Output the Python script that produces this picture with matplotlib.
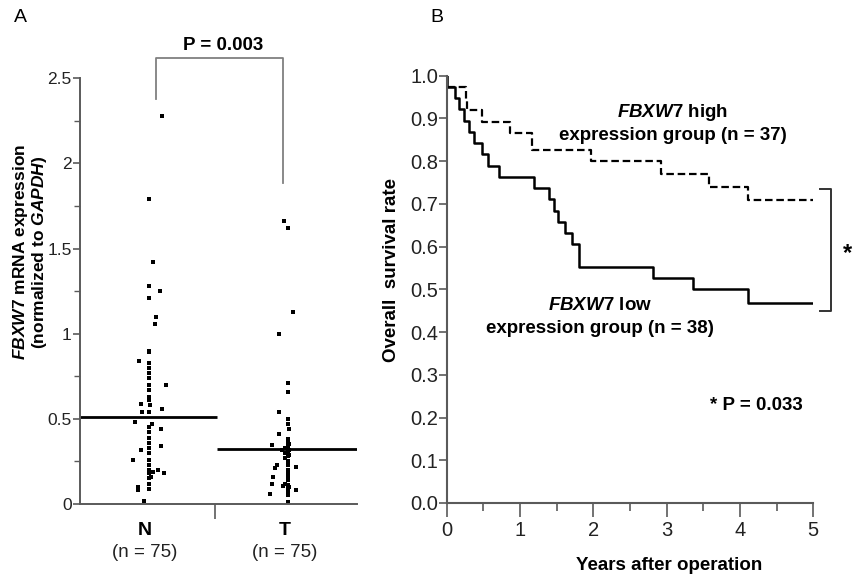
import matplotlib
matplotlib.use('Agg')
import matplotlib.pyplot as plt
from matplotlib.ticker import MultipleLocator, FormatStrFormatter, FuncFormatter

plt.rcParams['font.family'] = ['Liberation Sans', 'DejaVu Sans']
plt.rcParams['mathtext.fontset'] = 'custom'
plt.rcParams['mathtext.it'] = 'Liberation Sans:italic:bold'
plt.rcParams['mathtext.rm'] = 'Liberation Sans:bold'
plt.rcParams['mathtext.bf'] = 'Liberation Sans:bold'

# --- Panel A: FBXW7 mRNA expression, normal (N) vs tumour (T) ---
groups = ['N', 'T']
group_pos = [1, 2]
group_n = [75, 75]
medians = [0.51, 0.325]

n_x = [1.119, 1.031, 1.055, 1.031, 1.107, 1.031, 1.076, 1.071, 1.031, 1.031,
       0.959, 1.031, 1.031, 1.031, 1.031, 1.148, 1.031, 1.031, 1.031, 1.031,
       0.971, 1.035, 1.124, 0.981, 1.031, 0.929, 1.048, 1.031, 1.114, 1.031,
       1.031, 1.031, 1.112, 0.969, 1.031, 1.031, 0.917, 1.031, 1.031, 1.031,
       1.095, 1.040, 1.055, 1.136, 1.031, 1.031, 1.040, 1.031, 1.031, 0.948,
       0.950, 0.993]
n_y = [2.28, 1.79, 1.42, 1.28, 1.25, 1.21, 1.10, 1.06, 0.90, 0.89,
       0.84, 0.83, 0.80, 0.77, 0.74, 0.70, 0.70, 0.67, 0.63, 0.61,
       0.59, 0.58, 0.56, 0.54, 0.54, 0.48, 0.47, 0.45, 0.44, 0.42,
       0.39, 0.36, 0.34, 0.32, 0.33, 0.30, 0.26, 0.26, 0.23, 0.20,
       0.20, 0.19, 0.19, 0.18, 0.18, 0.15, 0.16, 0.12, 0.09, 0.08,
       0.10, 0.02]

t_x = [1.995, 2.019, 2.059, 1.959, 2.019, 2.019, 1.957, 2.019, 2.019, 2.025,
       1.957, 2.019, 2.019, 1.909, 2.030, 2.019, 2.000, 2.030, 1.976, 2.019,
       2.000, 2.030, 2.019, 2.000, 2.019, 1.940, 2.019, 2.076, 1.929, 2.019,
       2.019, 1.916, 2.019, 2.019, 1.905, 2.000, 2.019, 1.988, 2.030, 2.019,
       2.079, 2.019, 1.893, 2.019, 2.019]
t_y = [1.66, 1.62, 1.13, 1.00, 0.71, 0.66, 0.54, 0.50, 0.47, 0.44,
       0.41, 0.38, 0.36, 0.345, 0.35, 0.34, 0.33, 0.32, 0.32, 0.31,
       0.30, 0.29, 0.28, 0.27, 0.25, 0.23, 0.23, 0.215, 0.21, 0.20,
       0.18, 0.16, 0.16, 0.14, 0.12, 0.12, 0.11, 0.105, 0.10, 0.09,
       0.08, 0.07, 0.06, 0.05, 0.01]

# --- Panel B: Kaplan-Meier overall survival ---
low_t = [0, 0, 0.11, 0.17, 0.23, 0.31, 0.37, 0.48, 0.57, 0.71, 1.19, 1.39,
         1.47, 1.52, 1.62, 1.71, 1.81, 2.82, 3.36, 4.11, 5.0]
low_s = [1.0, 0.974, 0.947, 0.921, 0.895, 0.868, 0.842, 0.816, 0.789, 0.763,
         0.737, 0.711, 0.684, 0.658, 0.632, 0.605, 0.553, 0.526, 0.50, 0.468, 0.468]
high_t = [0, 0, 0.26, 0.28, 0.48, 0.87, 1.17, 1.97, 2.92, 3.58, 4.11, 5.0]
high_s = [1.0, 0.973, 0.946, 0.919, 0.892, 0.865, 0.827, 0.80, 0.771, 0.74, 0.71, 0.71]

W, H = 857, 581
SPINE = '#5a5a5a'
TXT = 13.5
fig = plt.figure(figsize=(W / 100, H / 100), dpi=100)

# ---------------- Panel A ----------------
axA = fig.add_axes([80 / W, 1 - 504 / H, 277 / W, (504 - 78.3) / H])
axA.set_xlim(0.536, 2.514)
axA.set_ylim(0, 2.5)
axA.scatter(n_x, n_y, marker='s', s=11, c='black', linewidths=0, clip_on=False)
axA.scatter(t_x, t_y, marker='s', s=11, c='black', linewidths=0, clip_on=False)
axA.hlines(medians[0], 0.536, 1.516, color='black', lw=2.0)
axA.hlines(medians[1], 1.516, 2.514, color='black', lw=2.0)

for s in ['top', 'right']:
    axA.spines[s].set_visible(False)
for s in ['left', 'bottom']:
    axA.spines[s].set_color(SPINE)
    axA.spines[s].set_linewidth(1.4)

axA.yaxis.set_major_locator(MultipleLocator(0.5))
axA.yaxis.set_minor_locator(MultipleLocator(0.25))
axA.yaxis.set_major_formatter(FuncFormatter(lambda v, p: '%g' % v))
axA.tick_params(axis='y', which='major', length=5, width=1.2, color=SPINE,
                labelsize=12.5, pad=1, labelcolor='#222222')
axA.tick_params(axis='y', which='minor', length=4, width=1.0, color=SPINE)
axA.set_xticks([1.5])
axA.set_xticklabels([''])
axA.tick_params(axis='x', length=11, width=1.2, color=SPINE)

for g, pos, n in zip(groups, group_pos, group_n):
    axA.text(pos, -0.155, g, ha='center', va='center', fontsize=14, fontweight='bold')
    axA.text(pos, -0.285, '(n = %d)' % n, ha='center', va='center', fontsize=13.5,
             color='#222222')

# significance bracket
axA.plot([1.079, 1.079, 1.988, 1.988], [2.376, 2.62, 2.62, 1.886],
         color='#808080', lw=1.3, clip_on=False)
fig.text(223 / W, 1 - 45 / H, 'P = 0.003', ha='center', va='center',
         fontsize=TXT, fontweight='bold')

fig.text(30 / W, 1 - 252 / H,
         '$\\mathit{FBXW7}$ mRNA expression\n(normalized to $\\mathit{GAPDH}$)',
         rotation=90, ha='center', va='center', multialignment='center',
         fontsize=12.5, fontweight='bold', linespacing=1.0)
fig.text(20 / W, 1 - 18 / H, 'A', ha='center', va='center', fontsize=14)

# ---------------- Panel B ----------------
axB = fig.add_axes([446.7 / W, 1 - 503 / H, 366.6 / W, 427.3 / H])
axB.set_xlim(0, 5)
axB.set_ylim(0, 1.0)
axB.step(low_t, low_s, where='post', color='black', lw=1.8)
axB.step(high_t, high_s, where='post', color='black', lw=1.6,
         linestyle=(0, (3.4, 1.7)))

for s in ['top', 'right']:
    axB.spines[s].set_visible(False)
for s in ['left', 'bottom']:
    axB.spines[s].set_color(SPINE)
    axB.spines[s].set_linewidth(1.5)

axB.yaxis.set_major_locator(MultipleLocator(0.1))
axB.yaxis.set_major_formatter(FormatStrFormatter('%.1f'))
axB.xaxis.set_major_locator(MultipleLocator(1))
axB.xaxis.set_minor_locator(MultipleLocator(0.5))
axB.tick_params(axis='y', length=6, width=1.2, color=SPINE, labelsize=14.5, pad=0,
                labelcolor='#222222')
axB.tick_params(axis='x', which='major', length=10, width=1.2, color=SPINE,
                labelsize=14.5, pad=3, labelcolor='#222222')
axB.tick_params(axis='x', which='minor', length=6, width=1.2, color=SPINE)

axB.text(3.08, 0.915, '$\\mathit{FBXW7}$ high', ha='center', va='center',
         fontsize=TXT, fontweight='bold')
axB.text(3.08, 0.861, 'expression group (n = 37)', ha='center', va='center',
         fontsize=TXT, fontweight='bold')
axB.text(2.09, 0.463, '$\\mathit{FBXW7}$ low', ha='center', va='center',
         fontsize=TXT, fontweight='bold')
axB.text(2.09, 0.409, 'expression group (n = 38)', ha='center', va='center',
         fontsize=TXT, fontweight='bold')
axB.text(4.23, 0.229, '* P = 0.033', ha='center', va='center',
         fontsize=TXT, fontweight='bold')

axB.plot([5.09, 5.24, 5.24, 5.09], [0.736, 0.736, 0.45, 0.45],
         color='#333333', lw=1.4, clip_on=False)
axB.text(5.465, 0.585, '*', ha='center', va='center', fontsize=17, fontweight='bold')

fig.text(392 / W, 1 - 270 / H, 'Overall  survival rate', rotation=90,
         ha='center', va='center', fontsize=TXT, fontweight='bold')
fig.text(669 / W, 1 - 566 / H, 'Years after operation', ha='center', va='center',
         fontsize=TXT, fontweight='bold')
fig.text(437 / W, 1 - 18 / H, 'B', ha='center', va='center', fontsize=14)

fig.savefig('out.png', dpi=100)
